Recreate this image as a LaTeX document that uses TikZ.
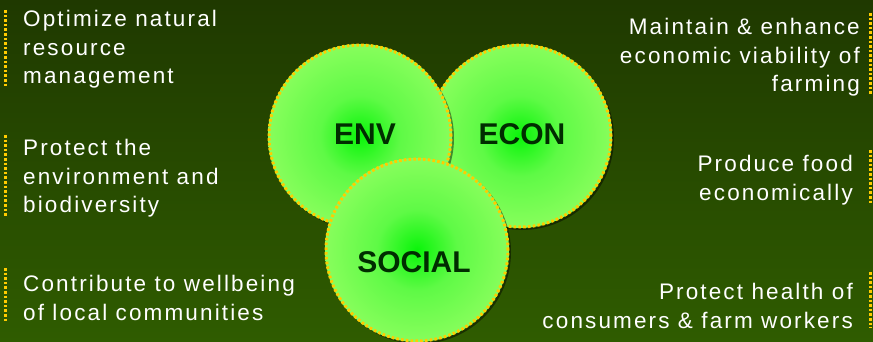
\documentclass[tikz,border=0pt]{standalone}
\usepackage{fontspec}
\setmainfont{Liberation Sans}
\newfontfamily\wide{Liberation Sans}[LetterSpace=9.5]

\definecolor{bgtop}{RGB}{31,57,0}
\definecolor{bgbot}{RGB}{47,92,0}
\definecolor{ringgold}{RGB}{255,204,0}
\definecolor{discin}{RGB}{10,245,10}
\definecolor{discmid}{RGB}{95,250,70}
\definecolor{discout}{RGB}{150,255,100}
\definecolor{labelgreen}{RGB}{0,45,0}

\pgfdeclareradialshading{glow}{\pgfpoint{0bp}{0bp}}{color(0bp)=(discin); color(11bp)=(discmid); color(30bp)=(discout); color(50bp)=(discout)}

\tikzset{
  disc/.style={circle, inner sep=0pt, minimum size=184pt, shading=glow},
  discring/.style={draw=ringgold, line width=3pt, dash pattern=on 2.6pt off 2.2pt},
  discshadow/.style={circle, inner sep=0pt, minimum size=184pt, fill=black, opacity=0.45},
  tag/.style={text=labelgreen, font=\bfseries\fontsize{30}{30}\selectfont},
  aim/.style={inner sep=0pt, text=white, font=\wide\fontsize{22.5}{28.5}\selectfont},
  bar/.style={draw=ringgold, line width=3pt, dash pattern=on 2.6pt off 2pt}
}

\begin{document}
\begin{tikzpicture}[x=1pt, y=-1pt]
  \useasboundingbox (0,0) rectangle (873,342);
  % Background
  \fill[top color=bgtop, bottom color=bgbot] (0,0) rectangle (873,342);

  % Three overlapping discs (ECON below ENV, SOCIAL on top)
  \node[discshadow] (econsh) at (522,138) {};
  \node[disc] (econ) at (520,136) {};
  \draw[discring] (econ.center) circle (91pt);
  \node[discshadow] (envsh) at (362,138) {};
  \node[disc] (env) at (360,136) {};
  \draw[discring] (env.center) circle (91pt);
  \node[discshadow] (socsh) at (419,252) {};
  \node[disc] (soc) at (417,250) {};
  \draw[discring] (soc.center) circle (91pt);

  % Disc labels
  \node[tag] (envtag) at (365,134) {ENV};
  \node[tag] (econtag) at (522,134) {ECON};
  \node[tag] (soctag) at (414,262) {SOCIAL};

  % Aims on the left
  \node[aim, anchor=north west, align=left] (resource) at (23,10)
    {Optimize natural\\resource\\management};
  \node[aim, anchor=north west, align=left] (nature) at (23,139)
    {Protect the\\environment and\\biodiversity};
  \node[aim, anchor=north west, align=left] (community) at (23,275)
    {Contribute to wellbeing\\of local communities};

  % Aims on the right
  \node[aim, anchor=north east, align=right] (viability) at (860,18)
    {Maintain \& enhance\\economic viability of\\farming};
  \node[aim, anchor=north east, align=right] (food) at (853,155)
    {Produce food\\economically};
  \node[aim, anchor=north east, align=right] (health) at (853,283)
    {Protect health of\\consumers \& farm workers};

  % Dotted bars beside the aims
  \draw[bar] (5,10) -- (5,86);
  \draw[bar] (5,135) -- (5,217);
  \draw[bar] (5,268) -- (5,322);
  \draw[bar] (870,13) -- (870,95);
  \draw[bar] (870,150) -- (870,203);
  \draw[bar] (870,272) -- (870,328);
\end{tikzpicture}
\end{document}
